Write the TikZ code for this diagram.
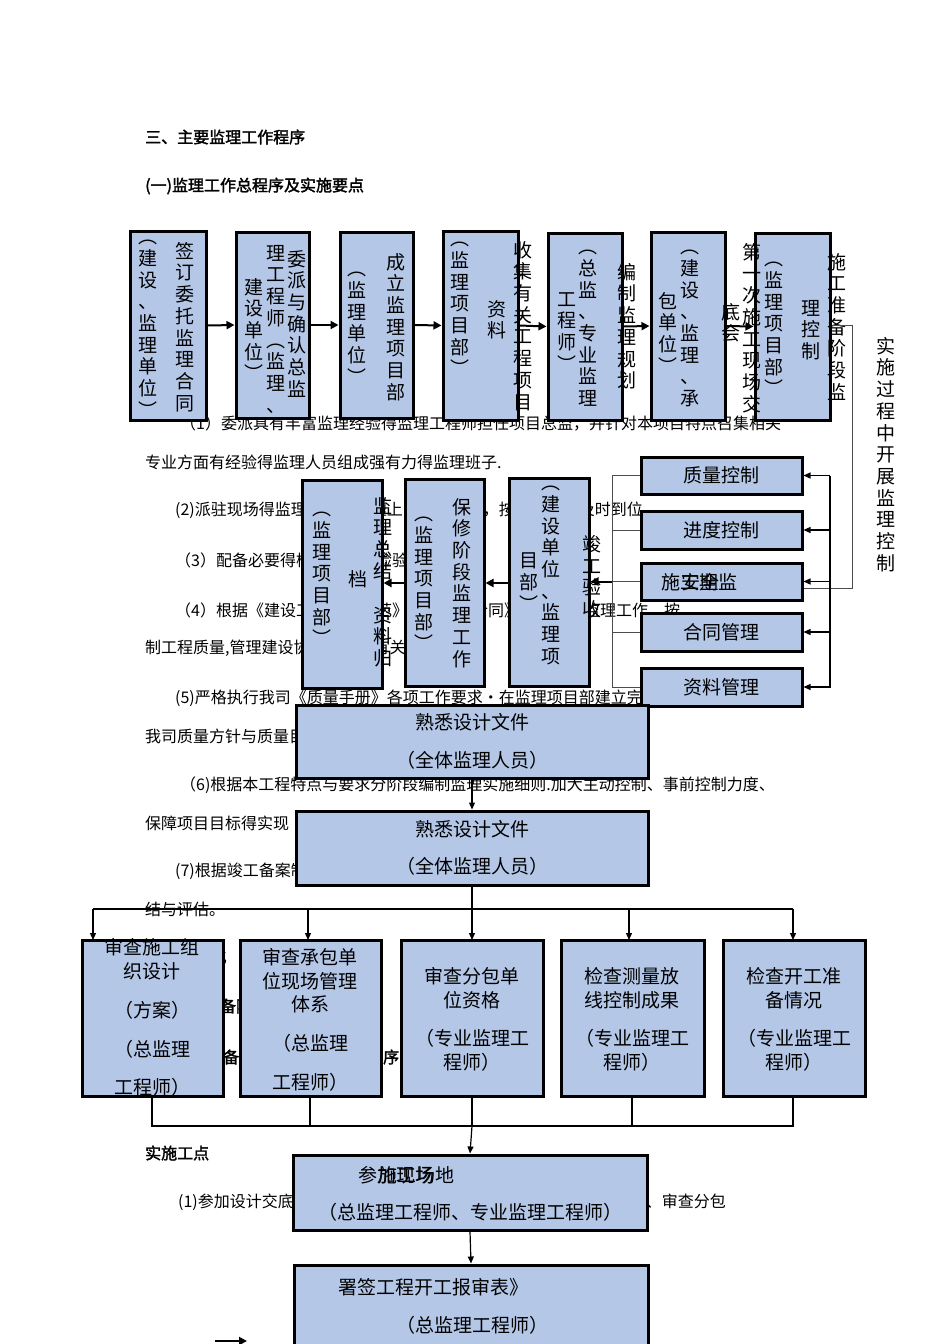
\documentclass[tikz,border=0pt]{standalone}
\usepackage{fontspec}
\setmainfont[AutoFakeBold=2]{Noto Sans CJK SC}
\usetikzlibrary{arrows.meta}
\XeTeXlinebreaklocale "zh"
\XeTeXlinebreakskip=0pt plus 1pt
\definecolor{bfill}{HTML}{B4C7E7}
\makeatletter
\def\vsp#1{\vsp@#1\@nil}
\def\vsp@#1{\ifx#1\@nil\else\hbox to 20pt{\hss#1\hss}\par\expandafter\vsp@\fi}
\makeatother
\tikzset{
 box/.style={draw=black,line width=3pt,fill=bfill,rectangle,inner sep=0pt},
 vcol/.style={anchor=north,inner sep=0pt,text width=20pt,align=center,font=\fontsize{19}{21.7}\selectfont},
 btxt/.style={anchor=west,inner sep=0pt,font=\fontsize{16}{16}\selectfont},
 htxt/.style={anchor=west,inner sep=0pt,font=\fontsize{16}{16}\selectfont\bfseries},
 ctxt/.style={inner sep=0pt,font=\fontsize{19}{22}\selectfont},
 arr/.style={-{Triangle[length=8pt,width=8pt]},line width=2pt},
 arrs/.style={-{Triangle[length=7pt,width=6pt]},line width=1.2pt},
 thin/.style={line width=1pt,draw=black!70},
}
\newcommand\bx[5]{\node[box,minimum width={(#4-#2)*1pt},minimum height={(#5-#3)*1pt}] (#1) at ({(#2+#4)/2},{(#3+#5)/2}) {};}
\newcommand\vc[3]{\node[vcol] at (#1,#2) {\vsp{#3}};}
\begin{document}
\begin{tikzpicture}[x=1pt,y=-1pt]
\useasboundingbox (0,0) rectangle (950,1344);
\fill[white] (0,0) rectangle (950,1344);
% body text
\node[htxt] (h1) at (145,137) {三、主要监理工作程序};
\node[htxt] (h2) at (145,186) {(一)监理工作总程序及实施要点};
\node[btxt] (t1) at (180,424) {（1）委派具有丰富监理经验得监理工程师担任项目总监，并针对本项目特点召集相关};
\node[btxt] (t2) at (145,462) {专业方面有经验得监理人员组成强有力得监理班子.};
\node[btxt] (t3) at (175,510) {(2)派驻现场得监理人员与监理上岗人员配套，按合同规定及时到位};
\node[btxt] (t4) at (175,560) {（3）配备必要得检测工具与检验设备};
\node[btxt] (t5) at (175,610) {（4）根据《建设工程监理规范》与《监理合同》开展各项监理工作，按};
\node[btxt] (t6) at (145,648) {制工程质量,管理建设协调与工程有关各方关系};
\node[btxt] (t7) at (175,698) {(5)严格执行我司《质量手册》各项工作要求·在监理项目部建立完};
\node[btxt] (t8) at (145,736) {我司质量方针与质量目标};
\node[btxt] (t9) at (180,785) {（6)根据本工程特点与要求分阶段编制监理实施细则.加大主动控制、事前控制力度、};
\node[btxt] (t10) at (145,823) {保障项目目标得实现};
\node[btxt] (t11) at (175,871) {(7)根据竣工备案制度要求在竣工验收阶段及时对工程进行总};
\node[btxt] (t12) at (145,909) {结与评估。};
\node[btxt] (t13) at (175,958) {(8)优化};
\node[htxt] (t14) at (145,1007) {(二)施工准备阶段监理工作程序};
\node[htxt] (t15) at (175,1057) {施工准备阶段监理工作要点程序};
\node[htxt] (t16) at (145,1153) {实施工点};
\node[btxt] (t17) at (178,1202) {(1)参加设计交底，审查施工组织设计、审查承包单位现场管理体系、审查分包};
% top row boxes
\bx{b1}{130}{231}{206}{420}
\bx{b2}{236}{232}{309}{418}
\bx{b3}{340}{232}{413}{418}
\bx{b4}{443}{231}{518}{420}
\bx{b5}{548}{233}{622}{420}
\bx{b6}{651}{232}{725}{420}
\bx{b7}{755}{233}{830}{420}
\vc{185}{242}{签订委托监理合同}
\vc{148}{240}{︵建设、监理单位︶}
\vc{297}{250}{委派与确认总监}
\vc{276}{245}{理工程师︵监理、}
\vc{254}{278}{建设单位︶}
\vc{396}{253}{成立监理项目部}
\vc{357}{272}{︵监理单位︶}
\vc{460}{242}{︵监理项目部︶}
\vc{497}{300}{资料}
\vc{588}{250}{︵总监、专业监理}
\vc{567}{292}{工程师︶}
\vc{690}{250}{︵建设、监理、承}
\vc{668}{292}{包单位︶}
\vc{774}{262}{︵监理项目部︶}
\vc{811}{300}{理控制}
\bx{c1}{302}{480}{382}{688}
\bx{c2}{405}{479}{484}{686}
\bx{c3}{509}{478}{589}{686}
\vc{322}{512}{︵监理项目部︶}
\vc{358}{570}{档}
\vc{424}{517}{︵监理项目部︶}
\vc{462}{498}{保修阶段监理工作}
\vc{551}{486}{︵建设单位、监理项}
\vc{529}{553}{目部︶}
% outside texts
\vc{523}{241}{收集有关工程项目}
\vc{627}{263}{编制监理规划}
\vc{752}{243}{第一次施工现场交}
\vc{731}{303}{底会}
\vc{837}{253}{施工准备阶段监}
\vc{886}{337}{实施过程中开展监理控制}
\vc{383}{497}{监理总结}
\vc{383}{606}{资料归}
\vc{592}{535}{竣工验收}
% top arrows
\draw[arr] (b1.east) -- (b2.west);
\draw[arr] (b2.east) -- (b3.west);
\draw[arr] (b3.east) -- (b4.west);
\draw[arr] (b4.east) -- (b5.west);
\draw[arr] (b5.east) -- (b6.west);
\draw[arr] (b6.east) -- (b7.west);
% control boxes
\bx{k1}{641}{457}{802}{494}
\bx{k2}{641}{511}{802}{549}
\bx{k3}{641}{563}{802}{600}
\bx{k4}{641}{613}{802}{651}
\bx{k5}{641}{668}{802}{706}
\node[ctxt] at (k1) {质量控制};
\node[ctxt] at (k2) {进度控制};
\node[ctxt,anchor=west] at (661,582) {施工期监};
\node[ctxt,anchor=west] at (681,582) {安全};
\node[ctxt] at (k4) {合同管理};
\node[ctxt] at (k5) {资料管理};
\coordinate (r0) at (852,325);
\draw[thin] (b7.east |- r0) -- (r0) -- (852,588) -- (k3.east |- 0,588);
\coordinate (q1) at (830,476); \coordinate (q5) at (830,688);
\draw[line width=2pt] (q1) -- (q5);
\foreach \k in {k1,k2,k3,k4,k5}{\draw[arrs] (q1 |- \k.east) -- (\k.east);}
\coordinate (l1) at (612,476); \coordinate (l5) at (612,688);
\draw[thin] (l1) -- (l5);
\foreach \k in {k1,k2,k3,k4,k5}{\draw[thin] (l1 |- \k.west) -- (\k.west);}
\draw[arr] (l1 |- k3.west) -- (c3.east |- k3.west);
\draw[arr] (c3.west |- 0,583) -- (c2.east |- 0,583);
\draw[arr] (c2.west |- 0,583) -- (c1.east |- 0,583);
% horizontal boxes
\bx{d1}{296}{705}{648}{778}
\bx{d2}{296}{811}{648}{885}
\node[ctxt] at (472,722) {熟悉设计文件};
\node[ctxt] at (472,760) {（全体监理人员）};
\node[ctxt] at (472,829) {熟悉设计文件};
\node[ctxt] at (472,866) {（全体监理人员）};
\draw[arrs] (d1.south) -- (d2.north);
% five boxes
\bx{e1}{82}{940}{223}{1096}
\bx{e2}{240}{940}{381}{1096}
\bx{e3}{401}{940}{543}{1096}
\bx{e4}{561}{940}{704}{1096}
\bx{e5}{723}{940}{865}{1096}
\begin{scope}[every node/.style={ctxt}]
\node at (152,947) {审查施工组}; \node at (152,971) {织设计};
\node at (152,1010) {（方案）}; \node at (152,1049) {（总监理};
\node at (152,1087) {工程师）};
\node at (310,957) {审查承包单}; \node at (310,981) {位现场管理};
\node at (310,1004) {体系}; \node at (310,1043) {（总监理};
\node at (310,1082) {工程师）};
\node at (472,976) {审查分包单}; \node at (472,1000) {位资格};
\node at (472,1038) {（专业监理工}; \node at (472,1062) {程师）};
\node at (632,976) {检查测量放}; \node at (632,1000) {线控制成果};
\node at (632,1038) {（专业监理工}; \node at (632,1062) {程师）};
\node at (794,976) {检查开工准}; \node at (794,1000) {备情况};
\node at (794,1038) {（专业监理工}; \node at (794,1062) {程师）};
\end{scope}
\coordinate (bus) at (472,909);
\draw[line width=1.3pt] (d2.south) -- (bus);
\draw[line width=1.3pt] (93,909) -- (793,909);
\foreach \e/\x in {e1/93,e2/308,e3/472,e4/629,e5/793}{\draw[arrs] (\x,909) -- (\x,940);}
\coordinate (bus2) at (472,1126);
\draw[line width=1.3pt] (152,1096) -- (152,1126) -- (793,1126) -- (793,1096);
\foreach \x in {310,472,632}{\draw[line width=1.3pt] (\x,1096) -- (\x,1126);}
% bottom boxes
\bx{f1}{293}{1155}{647}{1230}
\bx{f2}{294}{1265}{648}{1350}
\draw[arrs] (bus2) -- (f1.north);
\draw[arrs] (f1.south) -- (f2.north);
\node[ctxt,anchor=west] at (358,1175) {参加现场};
\node[ctxt,anchor=west] at (378,1175) {施工场地};
\node[ctxt] at (470,1212) {（总监理工程师、专业监理工程师）};
\node[ctxt,anchor=west] at (338,1287) {署签工程开工报审表》};
\node[ctxt] at (472,1325) {（总监理工程师）};
\coordinate (sa) at (215,1341); \coordinate (sb) at (247,1341);
\draw[arr] (sa) -- (sb);
\end{tikzpicture}
\end{document}
